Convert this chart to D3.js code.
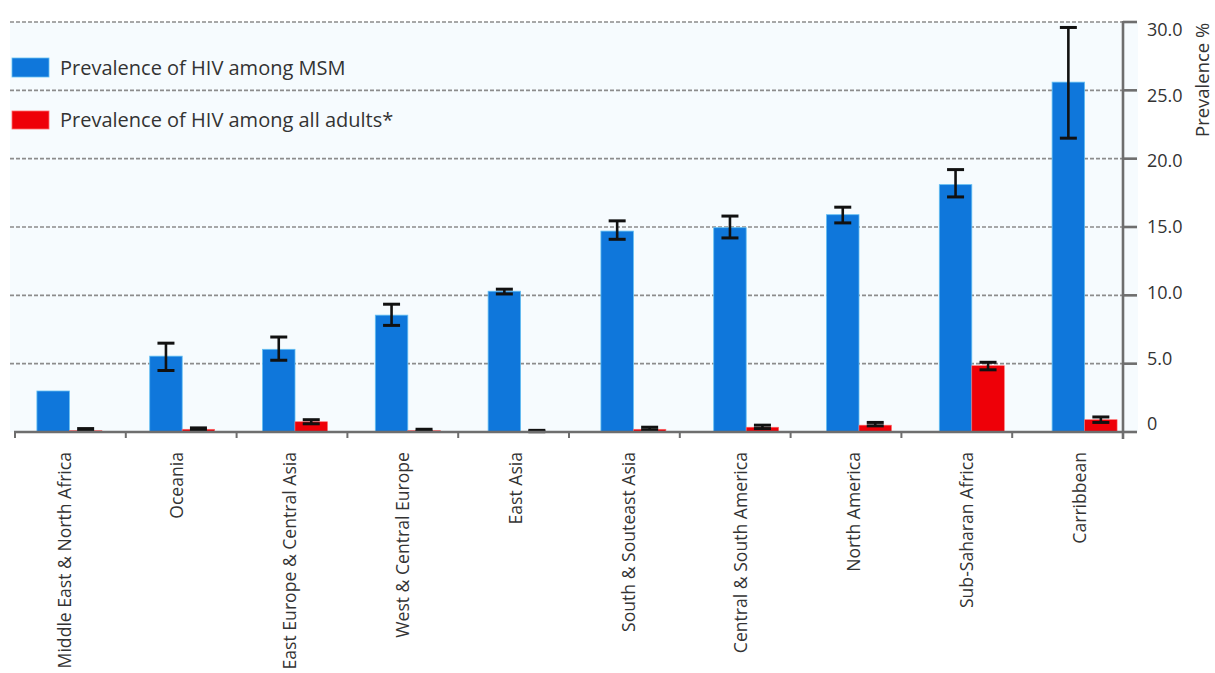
<!DOCTYPE html>
<html>
<head>
<meta charset="utf-8">
<script src="https://cdn.jsdelivr.net/npm/d3@7"></script>
<style>
  html, body { margin: 0; padding: 0; background: #ffffff; }
  svg { display: block; }
  text { font-family: "Open Sans", Lato, sans-serif; fill: #333333; }
</style>
</head>
<body>
<svg id="chart" width="1215" height="673"></svg>
<script>
// ---- data ----
const categories = [
  "Middle East & North Africa", "Oceania", "East Europe & Central Asia",
  "West & Central Europe", "East Asia", "South & Souteast Asia",
  "Central & South America", "North America", "Sub-Saharan Africa", "Carribbean"
];
const msm      = [3.0, 5.55, 6.05, 8.55, 10.3, 14.7, 14.95, 15.9, 18.1, 25.6];
const msmLow   = [null, 4.5, 5.25, 7.8, 10.1, 14.1, 14.2, 15.3, 17.2, 21.5];
const msmHigh  = [null, 6.5, 6.95, 9.35, 10.45, 15.45, 15.8, 16.45, 19.2, 29.6];
const adults     = [0.1, 0.2, 0.75, 0.1, 0.05, 0.2, 0.35, 0.5, 4.85, 0.9];
const adultsLow  = [0.05, 0.15, 0.6, 0.05, 0.02, 0.15, 0.25, 0.45, 4.55, 0.7];
const adultsHigh = [0.25, 0.3, 0.9, 0.2, 0.12, 0.35, 0.5, 0.7, 5.1, 1.1];
const yTicks = [0, 5, 10, 15, 20, 25, 30];
const yTickLabels = ["0", "5.0", "10.0", "15.0", "20.0", "25.0", "30.0"];
const seriesNames = ["Prevalence of HIV among MSM", "Prevalence of HIV among all adults*"];
const axisTitle = "Prevalence %";

// ---- layout ----
const svg = d3.select("#chart");
const blue = "#0f77db", red = "#ee0008";

const y = d3.scaleLinear().domain([0, 30]).range([432, 22]);
const yLab = d3.scaleLinear().domain([0, 30]).range([424, 29.5]);
const xTick = d3.scaleBand().domain(categories).range([15, 1123]);
const x0 = d3.scaleBand().domain(categories).range([13, 1141]).paddingInner(0.424).paddingOuter(0.212);
const x1 = d3.scaleBand().domain(["msm", "adults"]).range([0, x0.bandwidth()]);

// background
svg.append("rect").attr("x", 10).attr("y", y(30)).attr("width", 1128).attr("height", y(0) - y(30))
  .attr("fill", "#f6fbfe");

// gridlines
svg.append("g").selectAll("line").data(yTicks.filter(d => d > 0)).join("line")
  .attr("x1", 10).attr("x2", 1123).attr("y1", d => y(d)).attr("y2", d => y(d))
  .attr("stroke", "#8c8c8c").attr("stroke-width", 1.6).attr("stroke-dasharray", "4,2");

// bars
const rows = categories.map((c, i) => ({ c, i }));
const g = svg.append("g");
g.selectAll("rect.msm").data(rows).join("rect").attr("class", "msm")
  .attr("x", d => x0(d.c) + x1("msm")).attr("width", x1.bandwidth())
  .attr("y", d => y(msm[d.i])).attr("height", d => y(0) - y(msm[d.i]))
  .attr("fill", blue).attr("stroke", "#63bff2").attr("stroke-width", 0.8);
g.selectAll("rect.adults").data(rows).join("rect").attr("class", "adults")
  .attr("x", d => x0(d.c) + x1("adults")).attr("width", x1.bandwidth())
  .attr("y", d => y(adults[d.i])).attr("height", d => y(0) - y(adults[d.i]))
  .attr("fill", red).attr("stroke", "#ff6a6a").attr("stroke-width", 0.6);

// error bars
function errBars(key, lo, hi) {
  const data = rows.filter(d => lo[d.i] != null);
  const cx = d => x0(d.c) + x1(key) + x1.bandwidth() / 2;
  const eg = svg.append("g").attr("stroke", "#111111");
  eg.selectAll("line.v").data(data).join("line")
    .attr("x1", cx).attr("x2", cx).attr("y1", d => y(lo[d.i])).attr("y2", d => y(hi[d.i]))
    .attr("stroke-width", 2.6);
  eg.selectAll("line.lo").data(data).join("line")
    .attr("x1", d => cx(d) - 8.5).attr("x2", d => cx(d) + 8.5)
    .attr("y1", d => y(lo[d.i])).attr("y2", d => y(lo[d.i])).attr("stroke-width", 3);
  eg.selectAll("line.hi").data(data).join("line")
    .attr("x1", d => cx(d) - 8.5).attr("x2", d => cx(d) + 8.5)
    .attr("y1", d => y(hi[d.i])).attr("y2", d => y(hi[d.i])).attr("stroke-width", 3);
}
errBars("msm", msmLow, msmHigh);
errBars("adults", adultsLow, adultsHigh);

// bottom axis
const axisColor = "#6e6e6e";
svg.append("line").attr("x1", 14).attr("x2", 1124).attr("y1", y(0)).attr("y2", y(0))
  .attr("stroke", axisColor).attr("stroke-width", 2.6);
const bounds = categories.map(c => xTick(c));
svg.append("g").selectAll("line").data(bounds).join("line")
  .attr("x1", d => d).attr("x2", d => d).attr("y1", y(0)).attr("y2", y(0) + 6)
  .attr("stroke", axisColor).attr("stroke-width", 2);

// category labels
svg.append("g").selectAll("text").data(rows).join("text")
  .attr("transform", d => `translate(${x0(d.c) + x0.bandwidth() / 2 - 5},452) rotate(-90)`)
  .attr("text-anchor", "end").attr("dy", "0.35em")
  .style("font-size", "17.6px").text(d => d.c);

// right axis
svg.append("line").attr("x1", 1123).attr("x2", 1123).attr("y1", y(30) - 1).attr("y2", y(0) + 7)
  .attr("stroke", axisColor).attr("stroke-width", 2.6);
svg.append("g").selectAll("line").data(yTicks).join("line")
  .attr("x1", 1123).attr("x2", 1137).attr("y1", d => y(d)).attr("y2", d => y(d))
  .attr("stroke", axisColor).attr("stroke-width", 2.6);
svg.append("g").selectAll("text").data(yTicks).join("text")
  .attr("x", 1147).attr("y", d => yLab(d)).attr("dy", "0.35em")
  .style("font-size", "18px").text((d, i) => yTickLabels[i]);
svg.append("text").attr("transform", "translate(1209,137) rotate(-90)")
  .attr("text-anchor", "start").style("font-size", "18.5px").text(axisTitle);

// legend
const legend = svg.append("g");
[[blue, 58, 19], [red, 111, 18]].forEach(([col, ty, h], i) => {
  legend.append("rect").attr("x", 12).attr("y", ty).attr("width", 37).attr("height", h)
    .attr("fill", col).attr("stroke", i === 0 ? "#63bff2" : "#ff6a6a").attr("stroke-width", 0.8);
  legend.append("text").attr("x", 60).attr("y", ty + h / 2).attr("dy", "0.35em")
    .style("font-size", "20px").text(seriesNames[i]);
});
</script>
</body>
</html>
